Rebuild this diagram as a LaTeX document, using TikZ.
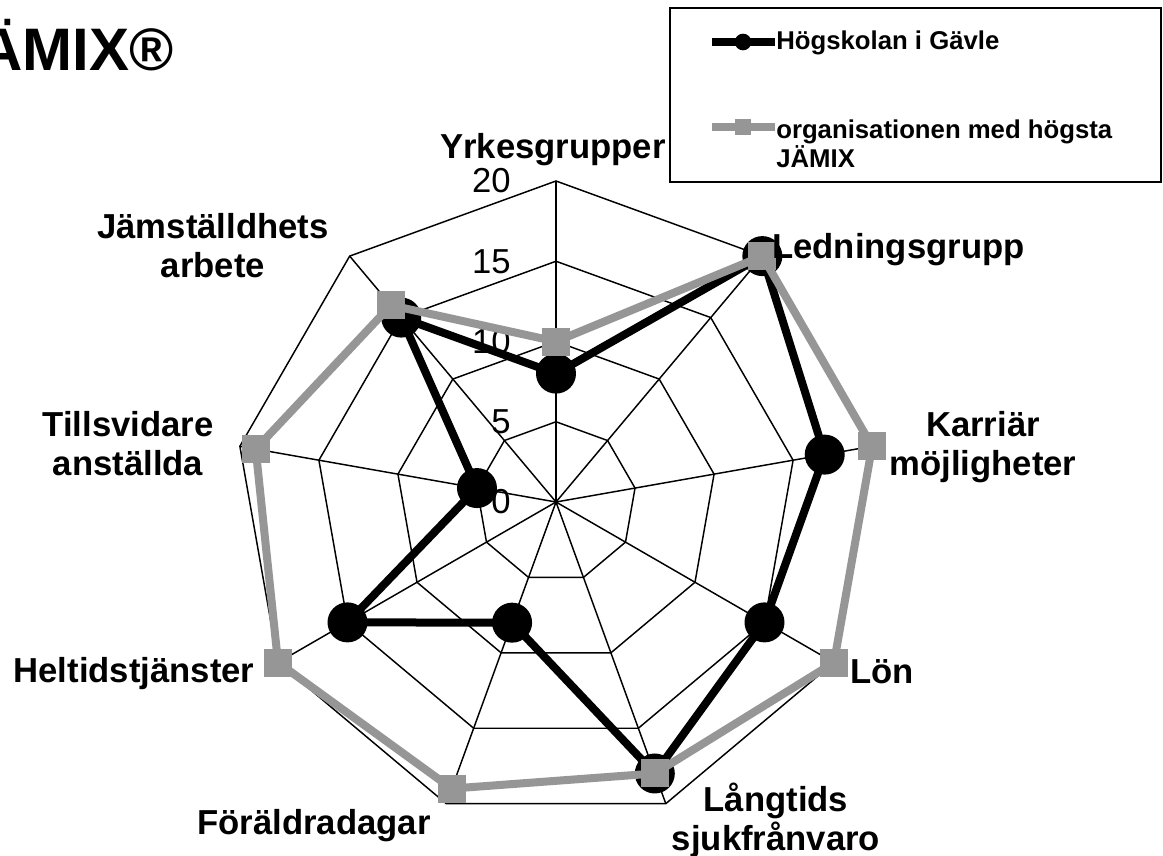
\documentclass[tikz,border=0pt]{standalone}
\usepackage{fontspec}
\setmainfont{Liberation Sans}
\definecolor{serieGray}{RGB}{150,150,150}
\begin{document}
\begin{tikzpicture}[x=0.75pt,y=-0.75pt,
  gridline/.style={black,line width=1.1pt},
  axisline/.style={black,line width=1.8pt},
  axislbl/.style={font=\bfseries\fontsize{26}{29.25}\selectfont,align=center,inner sep=0pt},
  ticklbl/.style={font=\fontsize{26}{30}\selectfont,anchor=east,inner sep=0pt},
  legendlbl/.style={font=\bfseries\fontsize{19.3}{21.75}\selectfont,align=left,inner sep=0pt,anchor=base west},
  blackser/.style={black,line width=6pt,line join=round},
  grayser/.style={serieGray,line width=6pt,line join=round},
  circmark/.style={circle,fill=black,minimum size=30pt,inner sep=0pt},
  sqmark/.style={rectangle,fill=serieGray,minimum size=21pt,inner sep=0pt},
  legcirc/.style={circle,fill=black,minimum size=12.5pt,inner sep=0pt},
  legsq/.style={rectangle,fill=serieGray,minimum size=12.5pt,inner sep=0pt},
]
\useasboundingbox (0,0) rectangle (1163,856);
\fill[white] (0,0) rectangle (1163,856);

% title (J cut off at left edge, as in the reference)
\node[font=\bfseries\fontsize{45}{50}\selectfont,anchor=base east,inner sep=0pt] (title) at (174,70) {JÄMIX®};

\begin{scope}[shift={(556,502)}]
  \coordinate (C) at (0,0);
  % rings
  \foreach \r in {5,10,15,20}{
    \draw[gridline] (-90:{\r*16.05}) \foreach \k in {1,...,8}{ -- ({40*\k-90}:{\r*16.05}) } -- cycle;
  }
  % spokes
  \foreach \k in {1,...,8}{
    \coordinate (sp\k) at ({40*\k-90}:321);
    \draw[gridline] (C) -- (sp\k);
  }
  \coordinate (sp0) at (-90:321);
  \draw[axisline] (C) -- (sp0);

  % tick labels
  \foreach \v in {0,5,10,15,20}{
    \node[ticklbl] (tick\v) at (-45,{-\v*16.05}) {\v};
  }

  % data: Högskolan i Gävle
  \foreach \v [count=\i from 0] in {8,20,17,15,18,8,15,5,15}{
    \coordinate (b\i) at ({40*\i-90}:{\v*16.05});
  }
  % data: organisationen med högsta JÄMIX
  \foreach \v [count=\i from 0] in {10,20,20,20,18,19,20,19,16}{
    \coordinate (g\i) at ({40*\i-90}:{\v*16.05});
  }
  \draw[blackser] (b0) -- (b1) -- (b2) -- (b3) -- (b4) -- (b5) -- (b6) -- (b7) -- (b8) -- cycle;
  \foreach \i in {0,...,8}{ \node[circmark] (mb\i) at (b\i) {}; }
  \draw[grayser] (g0) -- (g1) -- (g2) -- (g3) -- (g4) -- (g5) -- (g6) -- (g7) -- (g8) -- cycle;
  \foreach \i in {0,...,8}{ \node[sqmark] (mg\i) at (g\i) {}; }
\end{scope}

% axis labels (base anchor = baseline of the last line)
\node[axislbl,anchor=base] (lYrk) at (553,158) {Yrkesgrupper};
\node[axislbl,anchor=base west] (lLed) at (772,258) {Ledningsgrupp};
\node[axislbl,anchor=base] (lKar) at (983,475) {Karriär\\möjligheter};
\node[axislbl,anchor=base west] (lLon) at (850,683) {Lön};
\node[axislbl,anchor=base] (lLan) at (776,850) {Långtids\\sjukfrånvaro};
\node[axislbl,anchor=base] (lFor) at (314,834) {Föräldradagar};
\node[axislbl,anchor=base] (lHel) at (134,682) {Heltidstjänster};
\node[axislbl,anchor=base] (lTil) at (128,475) {Tillsvidare\\anställda};
\node[axislbl,anchor=base] (lJam) at (213,277) {Jämställdhets\\arbete};

% legend
\draw[line width=1.1pt] (670,8) rectangle (1161,182);
\coordinate (lb1) at (712,42);
\coordinate (lb2) at (775,42);
\draw[blackser] (lb1) -- (lb2);
\node[legcirc] (lbm) at (743,42) {};
\node[legendlbl] (lbt) at (776,50) {Högskolan i Gävle};
\coordinate (lg1) at (712,127);
\coordinate (lg2) at (775,127);
\draw[grayser] (lg1) -- (lg2);
\node[legsq] (lgm) at (743,127) {};
\node[legendlbl] (lgt) at (776,167) {organisationen med högsta\\JÄMIX};
\end{tikzpicture}
\end{document}
